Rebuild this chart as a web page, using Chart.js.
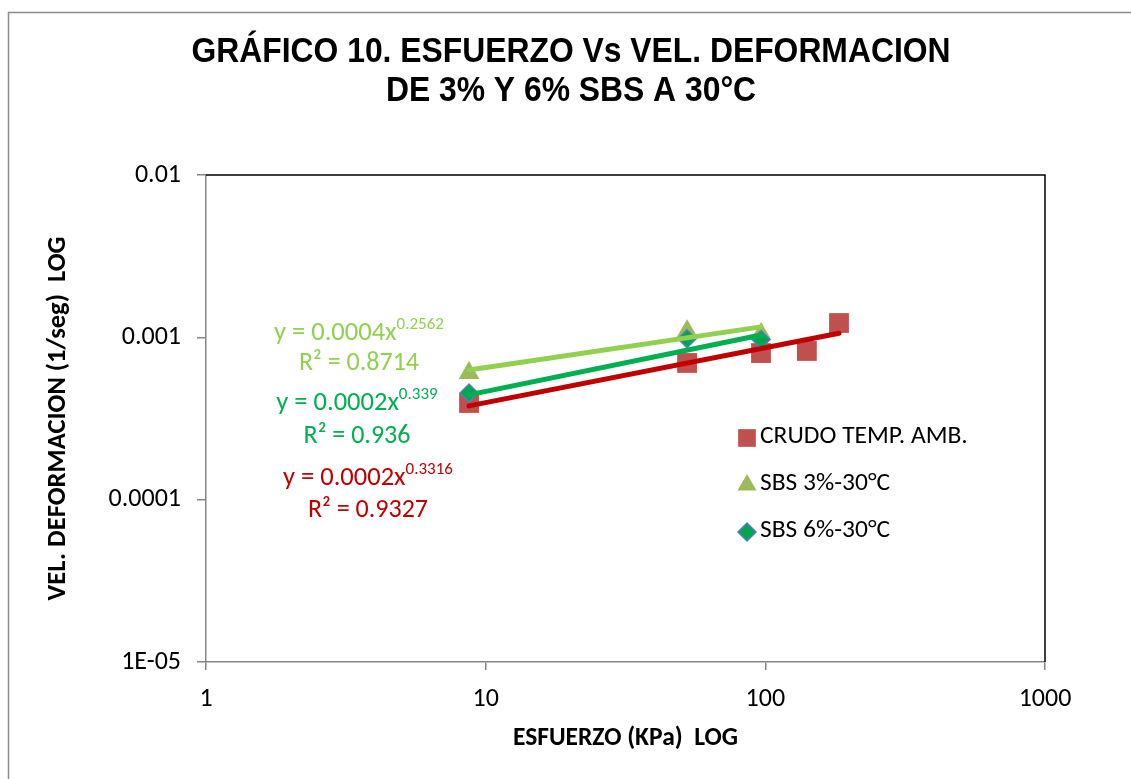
<!DOCTYPE html>
<html>
<head>
<meta charset="utf-8">
<script src="https://cdn.jsdelivr.net/npm/chart.js@4.4.0/dist/chart.umd.min.js"></script>
<style>
html, body { margin: 0; padding: 0; background: #fff; overflow: hidden; }
</style>
</head>
<body>
<canvas id="myChart" width="1131" height="779"></canvas>
<script>
// values
const crudoX = [8.72, 52.5, 96.5, 140.8, 183.4];
const crudoY = [0.000394, 0.000695, 0.00080, 0.000824, 0.001225];
const sbs3X = [8.72, 52.5, 96.5];
const sbs3Y = [0.000603, 0.00109, 0.00105];
const sbs6X = [8.72, 52.5, 96.5];
const sbs6Y = [0.000454, 0.00098, 0.00097];

// trendline end points (as drawn)
const trend3X = [8.72, 96.5];
const trend3Y = [0.000629, 0.00116];
const trend6X = [8.72, 96.5];
const trend6Y = [0.000442, 0.001033];
const trendCX = [8.72, 183.4];
const trendCY = [0.000378, 0.00106];

const xTicks = [1, 10, 100, 1000];
const xTickLabels = ['1', '10', '100', '1000'];
const yTicks = [0.00001, 0.0001, 0.001, 0.01];
const yTickLabels = ['1E-05', '0.0001', '0.001', '0.01'];

const seriesNames = ['CRUDO TEMP. AMB.', 'SBS 3%-30°C', 'SBS 6%-30°C'];
const eqMain = ['y = 0.0004x', 'y = 0.0002x', 'y = 0.0002x'];
const eqExp = ['0.2562', '0.339', '0.3316'];
const eqR2 = ['R² = 0.8714', 'R² = 0.936', 'R² = 0.9327'];

const titleLines = ['GRÁFICO 10. ESFUERZO Vs VEL. DEFORMACION', 'DE 3% Y 6% SBS A 30°C'];

const FONT = 'Carlito, Calibri, Lato, sans-serif';
const pts = (xs, ys) => xs.map((x, i) => ({x: x, y: ys[i]}));

const red = '#C0504D', olive = '#9BBB59', green = '#00A550', blue = '#4F81BD';
const lineLight = '#92D050', lineGreen = '#00B050', lineRed = '#C00000';

const extras = {
    id: 'extras',
    beforeDraw(chart) {
        const ctx = chart.ctx;
        ctx.save();
        ctx.strokeStyle = '#8c8c8c';
        ctx.lineWidth = 1.5;
        ctx.strokeRect(8.5, 12.5, 3000, 3000);
        ctx.restore();
    },
    afterDraw(chart) {
        const ctx = chart.ctx;
        const a = chart.chartArea;
        ctx.save();
        // top and right border of plot area
        ctx.strokeStyle = '#000';
        ctx.lineWidth = 1.5;
        ctx.beginPath();
        ctx.moveTo(a.left, a.top);
        ctx.lineTo(a.right, a.top);
        ctx.lineTo(a.right, a.bottom);
        ctx.stroke();

        // title, narrow bold look (squeezed horizontally)
        ctx.fillStyle = '#000';
        ctx.textAlign = 'center';
        ctx.textBaseline = 'middle';
        ctx.font = 'bold 35px "Liberation Sans Narrow", "Arial Narrow", "Liberation Sans", Arial, sans-serif';
        const tw = ctx.measureText(titleLines[0]).width;
        const sx = 759 / tw;
        ctx.save();
        ctx.translate(571, 0);
        ctx.scale(sx, 1);
        ctx.fillText(titleLines[0], 0, 52);
        ctx.fillText(titleLines[1], 0, 91);
        ctx.restore();

        // legend
        const legY = [437, 484, 531];
        const styles = [
            {pointStyle: 'rect', radius: 12.5, fill: red, stroke: red, bw: 0},
            {pointStyle: 'triangle', radius: 11, fill: olive, stroke: olive, bw: 0},
            {pointStyle: 'rectRot', radius: 9, fill: green, stroke: blue, bw: 1.5}
        ];
        styles.forEach((s, i) => {
            ctx.fillStyle = s.fill;
            ctx.strokeStyle = s.stroke;
            ctx.lineWidth = s.bw;
            Chart.helpers.drawPoint(ctx, {pointStyle: s.pointStyle, radius: s.radius, borderWidth: s.bw, rotation: 0}, 747, legY[i] + 1);
            ctx.fillStyle = '#000';
            ctx.textAlign = 'left';
            ctx.font = '25.5px ' + FONT;
            ctx.fillText(seriesNames[i], 760, legY[i]);
        });

        // trendline equations
        const eqCol = [lineLight, lineGreen, lineRed];
        const eqCx = [359, 357, 368];
        const eqY = [333, 403, 478];
        const r2Y = [363, 436, 510];
        for (let i = 0; i < 3; i++) {
            ctx.fillStyle = eqCol[i];
            ctx.textAlign = 'left';
            ctx.font = '26.5px ' + FONT;
            const w1 = ctx.measureText(eqMain[i]).width;
            ctx.font = '17px ' + FONT;
            const w2 = ctx.measureText(eqExp[i]).width;
            const x0 = eqCx[i] - (w1 + w2) / 2;
            ctx.font = '26.5px ' + FONT;
            ctx.fillText(eqMain[i], x0, eqY[i]);
            ctx.font = '17px ' + FONT;
            ctx.fillText(eqExp[i], x0 + w1, eqY[i] - 8);
            ctx.font = '26px ' + FONT;
            ctx.textAlign = 'center';
            ctx.fillText(eqR2[i], eqCx[i], r2Y[i]);
        }
        ctx.restore();
    }
};

const data = {
    datasets: [
        {label: 'trend 3', data: pts(trend3X, trend3Y), showLine: true, pointRadius: 0, borderColor: lineLight, borderWidth: 5, borderCapStyle: 'round', order: 1},
        {label: 'trend 6', data: pts(trend6X, trend6Y), showLine: true, pointRadius: 0, borderColor: lineGreen, borderWidth: 5, borderCapStyle: 'round', order: 2},
        {label: 'trend crudo', data: pts(trendCX, trendCY), showLine: true, pointRadius: 0, borderColor: lineRed, borderWidth: 5, borderCapStyle: 'round', order: 3},
        {label: seriesNames[2], data: pts(sbs6X, sbs6Y), pointStyle: 'rectRot', pointRadius: 9, backgroundColor: green, borderColor: blue, borderWidth: 1.5, order: 4},
        {label: seriesNames[1], data: pts(sbs3X, sbs3Y), pointStyle: 'triangle', pointRadius: 12, backgroundColor: olive, borderColor: olive, borderWidth: 0, order: 5},
        {label: seriesNames[0], data: pts(crudoX, crudoY), pointStyle: 'rect', pointRadius: 14, backgroundColor: red, borderColor: red, borderWidth: 0, order: 6}
    ]
};

const config = {
    type: 'scatter',
    data: data,
    plugins: [extras],
    options: {
        responsive: false,
        animation: false,
        layout: {padding: {left: 0, right: 86, top: 175, bottom: 0}},
        plugins: {legend: {display: false}, tooltip: {enabled: false}},
        scales: {
            x: {
                type: 'logarithmic',
                min: 1,
                max: 1000,
                afterBuildTicks: s => { s.ticks = xTicks.map(v => ({value: v})); },
                afterFit: s => { s.height = 117; },
                ticks: {
                    callback: (v) => xTickLabels[xTicks.indexOf(v)],
                    color: '#000',
                    font: {family: FONT, size: 26},
                    padding: 14,
                    maxRotation: 0
                },
                grid: {drawOnChartArea: false, drawTicks: true, tickLength: 8, color: '#868686', lineWidth: 1.5},
                border: {color: '#868686', width: 1.5},
                title: {display: true, text: 'ESFUERZO (KPa)  LOG', color: '#000',
                    font: {family: FONT, size: 25.5, weight: 'bold'}, padding: {top: 0, bottom: 25}}
            },
            y: {
                type: 'logarithmic',
                min: 0.00001,
                max: 0.01,
                afterBuildTicks: s => { s.ticks = yTicks.map(v => ({value: v})); },
                afterFit: s => { s.width = 206; },
                ticks: {
                    callback: (v) => yTickLabels[yTicks.indexOf(v)],
                    color: '#000',
                    font: {family: FONT, size: 26},
                    padding: 16
                },
                grid: {drawOnChartArea: false, drawTicks: true, tickLength: 9, color: '#868686', lineWidth: 1.5},
                border: {color: '#868686', width: 1.5},
                title: {display: true, text: 'VEL. DEFORMACION (1/seg)  LOG', color: '#000',
                    font: {family: FONT, size: 26.5, weight: 'bold'}, padding: {top: 42, bottom: 0}}
            }
        }
    }
};

const myChart = new Chart(document.getElementById('myChart'), config);
</script>
</body>
</html>
